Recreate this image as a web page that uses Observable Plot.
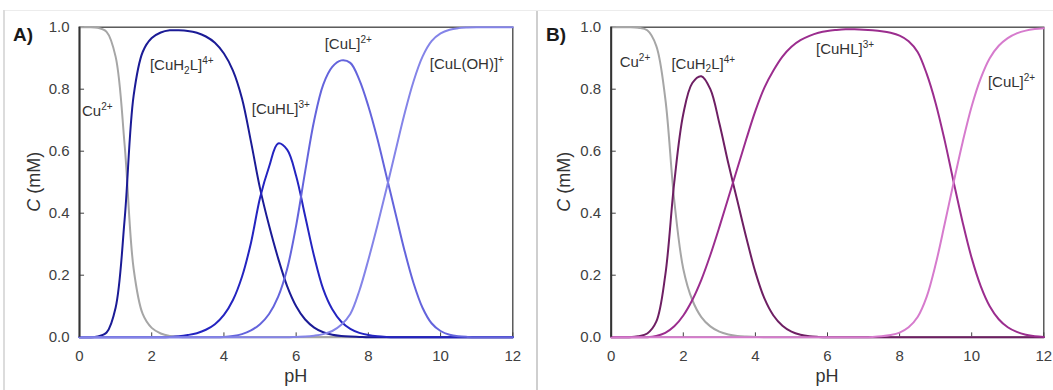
<!DOCTYPE html>
<html><head><meta charset="utf-8">
<script src="https://cdn.jsdelivr.net/npm/d3@7"></script>
<script src="https://cdn.jsdelivr.net/npm/@observablehq/plot@0.6"></script>
<style>
body{margin:0;background:#fff;}
#fig{position:relative;width:1053px;height:390px;overflow:hidden;background:#fff;font-family:"Liberation Sans",Arial,sans-serif;}
.pane{position:absolute;top:0;}
#edgeTop{position:absolute;left:4px;top:10px;width:1049px;height:1px;background:#ececec;}
#edgeLeft{position:absolute;left:3px;top:10px;width:2px;height:380px;background:#dcdcdc;}
#sep{position:absolute;left:536px;top:11px;width:2px;height:379px;background:#cfcfcf;}
</style></head>
<body>
<div id="fig">
  <div id="edgeTop"></div><div id="edgeLeft"></div><div id="sep"></div>
  <div id="paneA" class="pane" style="left:0px"></div>
  <div id="paneB" class="pane" style="left:537px"></div>
</div>
<script>
// ---------- data ----------
const pH = [0,0.25,0.5,0.75,1,1.25,1.5,1.75,2,2.25,2.5,2.75,3,3.25,3.5,3.75,4,4.25,4.5,4.75,5,5.25,5.5,5.75,6,6.25,6.5,6.75,7,7.25,7.5,7.75,8,8.25,8.5,8.75,9,9.25,9.5,9.75,10,10.25,10.5,10.75,11,11.25,11.5,11.75,12];
const xTicks = [0,2,4,6,8,10,12];
const yTicks = [0,0.2,0.4,0.6,0.8,1.0];

// Panel A (blue series), concentration in mM
const A_Cu    = [1,1,0.998,0.985,0.905,0.62,0.22,0.075,0.03,0.012,0.004,0.001,0,0,0,0,0,0,0,0,0,0,0,0,0,0,0,0,0,0,0,0,0,0,0,0,0,0,0,0,0,0,0,0,0,0,0,0,0];
const A_CuH2L = [0,0,0.002,0.015,0.095,0.38,0.78,0.92,0.965,0.983,0.99,0.99,0.988,0.982,0.97,0.95,0.915,0.86,0.77,0.63,0.48,0.36,0.255,0.165,0.1,0.057,0.031,0.016,0.008,0.004,0.002,0.001,0,0,0,0,0,0,0,0,0,0,0,0,0,0,0,0,0];
const A_CuHL  = [0,0,0,0,0,0,0,0,0,0,0.001,0.003,0.007,0.013,0.024,0.042,0.072,0.12,0.195,0.305,0.45,0.55,0.625,0.605,0.52,0.39,0.26,0.155,0.09,0.05,0.027,0.014,0.007,0.003,0.001,0,0,0,0,0,0,0,0,0,0,0,0,0,0];
const A_CuL   = [0,0,0,0,0,0,0,0,0,0,0,0,0,0,0,0,0.001,0.004,0.01,0.022,0.042,0.075,0.13,0.22,0.36,0.535,0.7,0.815,0.872,0.893,0.885,0.83,0.745,0.64,0.52,0.4,0.28,0.175,0.095,0.045,0.02,0.008,0.003,0.001,0,0,0,0,0];
const A_CuLOH = [0,0,0,0,0,0,0,0,0,0,0,0,0,0,0,0,0,0,0,0,0,0,0,0,0.001,0.002,0.005,0.01,0.02,0.04,0.075,0.15,0.25,0.36,0.478,0.6,0.72,0.825,0.905,0.955,0.98,0.992,0.997,0.999,1,1,1,1,1];

// Panel B (purple series)
const B_Cu    = [1,1,1,0.998,0.99,0.94,0.77,0.44,0.22,0.12,0.065,0.035,0.018,0.009,0.004,0.002,0.001,0,0,0,0,0,0,0,0,0,0,0,0,0,0,0,0,0,0,0,0,0,0,0,0,0,0,0,0,0,0,0,0];
const B_CuH2L = [0,0,0,0.003,0.012,0.05,0.2,0.5,0.72,0.82,0.842,0.8,0.69,0.56,0.44,0.32,0.21,0.125,0.07,0.037,0.018,0.008,0.003,0.001,0,0,0,0,0,0,0,0,0,0,0,0,0,0,0,0,0,0,0,0,0,0,0,0,0];
const B_CuHL  = [0,0,0,0,0,0.004,0.014,0.035,0.07,0.12,0.185,0.265,0.355,0.45,0.545,0.64,0.73,0.805,0.86,0.905,0.937,0.958,0.972,0.982,0.988,0.991,0.993,0.993,0.992,0.99,0.987,0.982,0.973,0.955,0.92,0.85,0.755,0.635,0.5,0.37,0.255,0.165,0.1,0.058,0.032,0.017,0.008,0.003,0.001];
const B_CuL   = [0,0,0,0,0,0,0,0,0,0,0,0,0,0,0,0,0,0,0,0,0,0,0,0,0,0,0,0,0,0.001,0.003,0.007,0.015,0.032,0.065,0.13,0.235,0.365,0.5,0.63,0.745,0.835,0.9,0.94,0.965,0.98,0.989,0.994,0.997];

// species labels: text (^{..} superscript, _{..} subscript), pH anchor, C anchor
const labelTextA = ["Cu^{2+}", "[CuH_{2}L]^{4+}", "[CuHL]^{3+}", "[CuL]^{2+}", "[CuL(OH)]^{+}"];
const labelXA    = [0.07, 1.95, 4.77, 6.79, 9.70];
const labelYA    = [0.729, 0.876, 0.735, 0.944, 0.881];
const labelTextB = ["Cu^{2+}", "[CuH_{2}L]^{4+}", "[CuHL]^{3+}", "[CuL]^{2+}"];
const labelXB    = [0.235, 1.67, 5.68, 10.45];
const labelYB    = [0.886, 0.882, 0.93, 0.822];

const colorsA = ["#a6a6a6", "#1b1b96", "#2424c0", "#6464dc", "#8484e8"];
const colorsB = ["#a6a6a6", "#6e1f63", "#9b2d8e", "#d67bcd"];

// ---------- drawing ----------
function rows(values){ return pH.map((x,i)=>({pH:x, C:values[i]})); }

function richify(svg){
  d3.select(svg).selectAll('g[aria-label="text"] text').each(function(){
    const s = this.textContent;
    this.textContent = "";
    const el = this;
    let cur = 0;
    const add = (str, kind) => {
      const target = kind === "^" ? -6 : kind === "_" ? 3.5 : 0;
      const t = d3.select(el).append("tspan").text(str);
      if (target !== cur) t.attr("dy", target - cur);
      if (kind) t.attr("font-size", 10);
      cur = target;
    };
    const re = /(\^|_)\{([^}]*)\}/g; let last = 0, m;
    while ((m = re.exec(s))) {
      if (m.index > last) add(s.slice(last, m.index), null);
      add(m[2], m[1]);
      last = re.lastIndex;
    }
    if (last < s.length) add(s.slice(last), null);
  });
}

function panel(cfg){
  const {width, mL, mR, series, colors, lt, lx, ly, tag, yTitleX} = cfg;
  const mT = 26.7, mB = 53.3, H = 390;
  const marks = [
    Plot.frame({stroke:"#404040", strokeWidth:1.3}),
    Plot.ruleY(yTicks, {y:d=>d, x1:0, x2:0.14, stroke:"#404040"}),
    Plot.ruleX(xTicks, {x:d=>d, y1:0, y2:0.014, stroke:"#404040"}),
    ...series.map((s,i)=>Plot.line(rows(s), {x:"pH", y:"C", stroke:colors[i], strokeWidth:2, curve:"catmull-rom"})),
    Plot.ruleX([0], {stroke:"#333", strokeWidth:2}),
    Plot.text(lt.map((t,i)=>({t, x:lx[i], y:ly[i]})), {x:"x", y:"y", text:"t", textAnchor:"start", lineAnchor:"middle", fontSize:15, fill:"#333"})
  ];
  const svg = Plot.plot({
    width, height:H, marginLeft:mL, marginRight:mR, marginTop:mT, marginBottom:mB,
    style:{background:"transparent", fontFamily:"'Liberation Sans', Arial, sans-serif", fontSize:"15px", color:"#404040"},
    x:{domain:[0,12], ticks:xTicks, tickSize:0, tickPadding:13, label:null},
    y:{domain:[0,1], ticks:yTicks, tickFormat:d3.format(".1f"), tickSize:0, tickPadding:10, label:null},
    marks
  });
  richify(svg);
  const s = d3.select(svg);
  const cx = mL + (width - mL - mR)/2, cy = mT + (H - mT - mB)/2;
  s.append("text").attr("x", cx).attr("y", 382).attr("text-anchor","middle")
    .attr("font-size",18).attr("fill","#333").text("pH");
  const yt = s.append("text").attr("transform",`translate(${yTitleX},${cy}) rotate(-90)`)
    .attr("text-anchor","middle").attr("font-size",18).attr("fill","#333");
  yt.append("tspan").attr("font-style","italic").text("C");
  yt.append("tspan").text(" (mM)");
  s.append("text").attr("x", cfg.tagX).attr("y", 41).attr("font-size",19).attr("text-anchor","start")
    .attr("font-weight","bold").attr("fill","#1a1a1a").text(tag);
  return svg;
}

document.getElementById("paneA").appendChild(panel({
  width:536, mL:79, mR:23.7, series:[A_Cu,A_CuH2L,A_CuHL,A_CuL,A_CuLOH], colors:colorsA,
  lt:labelTextA, lx:labelXA, ly:labelYA, tag:"A)", tagX:13, yTitleX:40
}));
document.getElementById("paneB").appendChild(panel({
  width:516, mL:73.7, mR:9.7, series:[B_Cu,B_CuH2L,B_CuHL,B_CuL], colors:colorsB,
  lt:labelTextB, lx:labelXB, ly:labelYB, tag:"B)", tagX:9, yTitleX:33
}));
</script>
</body></html>
